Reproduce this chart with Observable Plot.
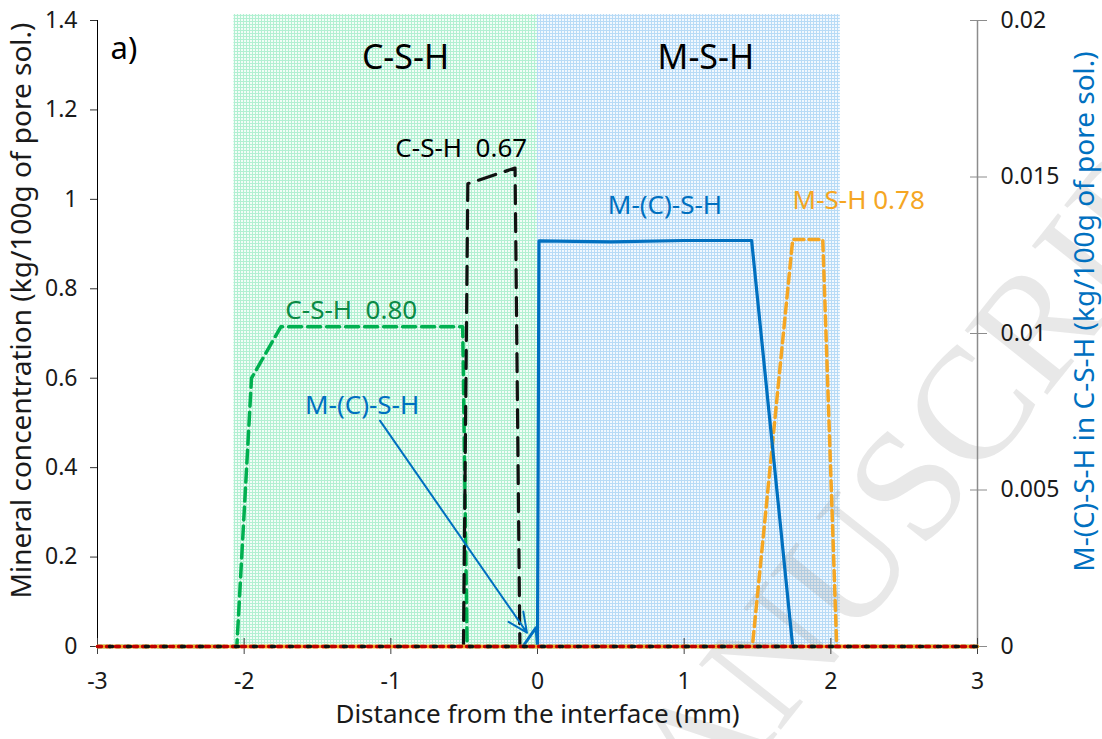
<!DOCTYPE html>
<html>
<head>
<meta charset="utf-8">
<script src="https://cdn.jsdelivr.net/npm/d3@7"></script>
<script src="https://cdn.jsdelivr.net/npm/@observablehq/plot@0.6"></script>
<style>
  html, body { margin: 0; padding: 0; background: #fff; }
  svg { display: block; }
</style>
</head>
<body>
<div id="chart"></div>
<script>
// ---------- data ----------
const xTicks = [-3, -2, -1, 0, 1, 2, 3];
const yTicks = [0, 0.2, 0.4, 0.6, 0.8, 1, 1.2, 1.4];
const y2Ticks = [0, 0.005, 0.01, 0.015, 0.02];
const y2Factor = 1.4 / 0.02; // right axis max 0.02 shares the frame with left max 1.4

const zoneNames = ["C-S-H", "M-S-H"];
const zoneStart = [-2.07, 0];
const zoneEnd = [0, 2.065];

// C-S-H 0.80 (green dashed)
const csh080X = [-3, -2.05, -1.95, -1.75, -0.51, -0.48, 3];
const csh080Y = [0, 0, 0.6, 0.715, 0.715, 0, 0];
// C-S-H 0.67 (black dashed)
const csh067X = [-3, -0.505, -0.475, -0.153, -0.12, 3];
const csh067Y = [0, 0, 1.035, 1.07, 0, 0];
// M-(C)-S-H (blue solid)
const mcshX = [-3, 0, 0.01, 0.5, 1.0, 1.46, 1.74, 3];
const mcshY = [0, 0, 0.907, 0.905, 0.908, 0.908, 0, 0];
// M-S-H 0.78 (orange dashed)
const msh078X = [-3, 1.465, 1.74, 1.945, 2.04, 3];
const msh078Y = [0, 0, 0.91, 0.91, 0, 0];
// M-(C)-S-H in C-S-H (right axis, blue)
const mcshInCshX = [-3, -0.1, -0.07, -0.04, -0.01, 0, 3];
const mcshInCshY = [0, 0, 0.0002, 0.0004, 0.0006, 0, 0];
// other phases that stay at zero
const zeroX = [-3, 3];
const zeroY = [0, 0];

// annotations
const labelTexts = ["a)", "C-S-H", "M-S-H", "C-S-H\u00a0\u00a00.67", "C-S-H\u00a0\u00a00.80", "M-(C)-S-H", "M-S-H 0.78", "M-(C)-S-H"];
const labelX = [-2.82, -0.9, 1.148, -0.52, -1.27, 0.869, 2.19, -1.196];
const labelY = [1.337, 1.315, 1.315, 1.114, 0.751, 0.986, 0.9975, 0.539];
const arrowFrom = [-1.074, 0.505];
const arrowTo = [-0.072, 0.031];

const xLabel = "Distance from the interface (mm)";
const yLabel = "Mineral concentration (kg/100g of pore sol.)";
const y2Label = "M-(C)-S-H in C-S-H (kg/100g of pore sol.)";
const watermark = "MANUSCRIPT";

// ---------- build ----------
const rows = (xs, ys, k = 1) => xs.map((x, i) => ({x, y: ys[i] * k}));
const zones = zoneNames.map((name, i) => ({name, x1: zoneStart[i], x2: zoneEnd[i]}));
const labels = labelTexts.map((t, i) => ({t, x: labelX[i], y: labelY[i]}));
const fmt = d => String(+d.toFixed(4));

const FONT = "'Noto Sans', 'Open Sans', sans-serif";
const BLUE = "#0070c0", GREEN = "#00b050", ORANGE = "#f5a623", BLACK = "#111111", RED = "#c00000";

const lbl = (i, o) => Plot.text([labels[i]], {x: "x", y: "y", text: "t", fontFamily: FONT, ...o});

const chart = Plot.plot({
  width: 1102,
  height: 739,
  marginLeft: 97,
  marginRight: 125,
  marginTop: 20,
  marginBottom: 93,
  style: {fontFamily: FONT, background: "white", overflow: "visible"},
  x: {domain: [-3, 3]},
  y: {domain: [0, 1.4]},
  marks: [
    // shaded zones
    Plot.rect([zones[0]], {x1: "x1", x2: "x2", y1: 0, y2: 1.4, insetTop: -6, fill: "url(#patGreen)"}),
    Plot.rect([zones[1]], {x1: "x1", x2: "x2", y1: 0, y2: 1.4, insetTop: -6, fill: "url(#patBlue)"}),
    // watermark
    Plot.text([watermark], {frameAnchor: "top-left", textAnchor: "middle", lineAnchor: "middle",
      dx: 898 - 97, dy: 499 - 20, rotate: -51.5,
      fontSize: 160, fontFamily: "'Liberation Serif', serif", fill: "#8a8a8a", fillOpacity: 0.2, text: d => d}),
    // axis lines
    Plot.ruleX([-3], {stroke: "#000", strokeWidth: 1}),
    Plot.ruleX([3], {stroke: "#8c8c8c", strokeWidth: 1.5}),
    // axes
    Plot.axisY(yTicks, {anchor: "left", tickSize: 7, tickPadding: 13, fontSize: 23, tickFormat: fmt,
      label: null, stroke: "#333", fill: "#1a1a1a"}),
    Plot.axisY(y2Ticks.map(v => v * y2Factor), {anchor: "right", tickSize: 17, dx: -8, tickPadding: 14, fontSize: 23,
      tickFormat: d => fmt(d / y2Factor), label: null, stroke: "#8c8c8c", fill: "#1a1a1a"}),
    Plot.axisX(xTicks, {anchor: "bottom", tickSize: 16, dy: -8, tickPadding: 18, fontSize: 23,
      tickFormat: d => String(d), label: null, stroke: "#404040", fill: "#1a1a1a"}),
    // series
    Plot.line(rows(csh080X, csh080Y), {x: "x", y: "y", stroke: GREEN, strokeWidth: 3.5, strokeDasharray: "13,6"}),
    Plot.line(rows(csh067X, csh067Y), {x: "x", y: "y", stroke: BLACK, strokeWidth: 3.2, strokeDasharray: "18,10"}),
    Plot.line(rows(msh078X, msh078Y), {x: "x", y: "y", stroke: ORANGE, strokeWidth: 3.5, strokeDasharray: "10,5"}),
    Plot.line(rows(mcshX, mcshY), {x: "x", y: "y", stroke: BLUE, strokeWidth: 3.2}),
    Plot.line(rows(mcshInCshX, mcshInCshY, y2Factor), {x: "x", y: "y", stroke: BLUE, strokeWidth: 3}),
    // zero-valued phases along the baseline
    Plot.line(rows(zeroX, zeroY), {x: "x", y: "y", stroke: ORANGE, strokeWidth: 3.5}),
    Plot.line(rows(zeroX, zeroY), {x: "x", y: "y", stroke: RED, strokeWidth: 3.5, strokeDasharray: "4,5"}),
    Plot.line(rows(zeroX, zeroY), {x: "x", y: "y", stroke: BLACK, strokeWidth: 3.5, strokeDasharray: "3,15", strokeDashoffset: 6}),
    // arrow
    Plot.arrow([{x1: arrowFrom[0], y1: arrowFrom[1], x2: arrowTo[0], y2: arrowTo[1]}],
      {x1: "x1", y1: "y1", x2: "x2", y2: "y2", stroke: BLUE, strokeWidth: 2, headLength: 16, headAngle: 50}),
    // labels
    lbl(0, {fontSize: 31, fill: "#000"}),
    lbl(1, {fontSize: 34, fill: "#000"}),
    lbl(2, {fontSize: 34, fill: "#000"}),
    lbl(3, {fontSize: 26, fill: "#000"}),
    lbl(4, {fontSize: 26, fill: "#0a8a45"}),
    lbl(5, {fontSize: 26, fill: BLUE}),
    lbl(6, {fontSize: 26, fill: ORANGE}),
    lbl(7, {fontSize: 26, fill: BLUE}),
    // axis titles
    Plot.text([xLabel], {frameAnchor: "bottom", dy: 76, fontSize: 26, fill: "#1a1a1a", text: d => d}),
    Plot.text([yLabel], {frameAnchor: "left", textAnchor: "middle", dx: -75, dy: -23, rotate: -90,
      fontSize: 28, fill: "#1a1a1a", text: d => d}),
    Plot.text([y2Label], {frameAnchor: "right", textAnchor: "middle", dx: 108, dy: -22, rotate: -90,
      fontSize: 28, fill: BLUE, text: d => d})
  ]
});

// fill patterns for the zones
const defs = d3.select(chart).insert("defs", ":first-child");
function addPattern(id, bg, fg) {
  const p = defs.append("pattern").attr("id", id).attr("width", 3).attr("height", 3)
    .attr("patternUnits", "userSpaceOnUse");
  p.append("rect").attr("width", 3).attr("height", 3).attr("fill", bg);
  p.append("rect").attr("width", 3).attr("height", 1).attr("fill", fg);
  p.append("rect").attr("width", 1).attr("height", 3).attr("fill", fg);
}
addPattern("patGreen", "#f2fdf7", "#b2f0d2");
addPattern("patBlue", "#f2f8fe", "#b8dbf6");

document.getElementById("chart").appendChild(chart);
</script>
</body>
</html>
